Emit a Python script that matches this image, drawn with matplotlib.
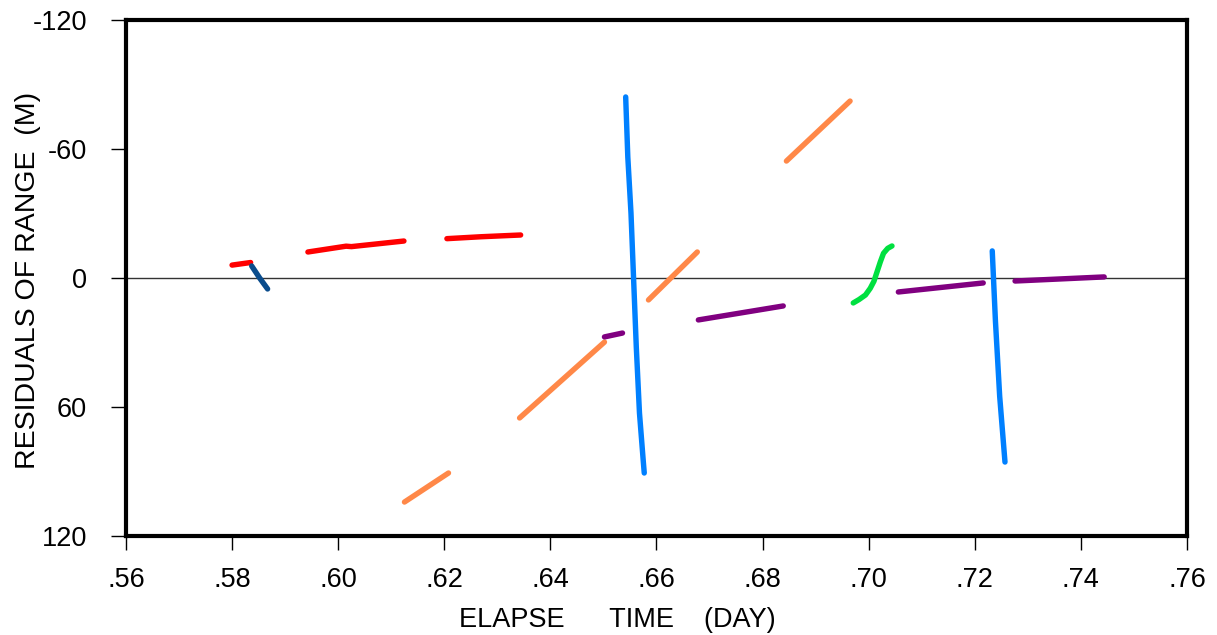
import matplotlib
matplotlib.use("Agg")
import matplotlib.pyplot as plt

plt.rcParams['font.family'] = ['Liberation Sans', 'DejaVu Sans']

# Segments (x in days, y residuals in m)
red1_x = [0.5800, 0.5835]
red1_y = [-6.0, -7.2]
dblue_x = [0.5837, 0.5852, 0.5867]
dblue_y = [-5.6, 0.0, 5.1]
red2_x = [0.5943, 0.6015, 0.6025, 0.6124]
red2_y = [-12.1, -14.8, -14.6, -17.2]
red3_x = [0.6205, 0.6270, 0.6344]
red3_y = [-18.3, -19.2, -20.0]
orange1_x = [0.6125, 0.6208]
orange1_y = [104.2, 90.7]
orange2_x = [0.6342, 0.6502]
orange2_y = [65.1, 29.8]
purple1_x = [0.6502, 0.6536]
purple1_y = [27.4, 25.6]
lblue1_x = [0.6542, 0.6546, 0.6552, 0.6557, 0.6562, 0.6568, 0.6575, 0.6577]
lblue1_y = [-84.2, -56.3, -30.2, 0.9, 32.1, 62.8, 84.7, 90.7]
orange3_x = [0.6585, 0.6677]
orange3_y = [10.2, -12.1]
purple2_x = [0.6679, 0.6839]
purple2_y = [19.5, 13.0]
orange4_x = [0.6845, 0.6965]
orange4_y = [-54.4, -82.3]
green_x = [0.6971, 0.6982, 0.6994, 0.7003, 0.7010, 0.7016, 0.7022, 0.7028, 0.7036, 0.7044]
green_y = [11.6, 10.0, 7.9, 4.8, 1.5, -3.0, -7.5, -11.5, -13.8, -14.9]
purple3_x = [0.7056, 0.7216]
purple3_y = [6.5, 2.3]
lblue2_x = [0.7233, 0.7239, 0.7247, 0.7257]
lblue2_y = [-12.6, 20.0, 55.0, 85.6]
purple4_x = [0.7276, 0.7444]
purple4_y = [1.4, -0.5]

segments = [
    (red1_x, red1_y, '#FF0000'),
    (dblue_x, dblue_y, '#0A4C8C'),
    (red2_x, red2_y, '#FF0000'),
    (red3_x, red3_y, '#FF0000'),
    (orange1_x, orange1_y, '#FF8848'),
    (orange2_x, orange2_y, '#FF8848'),
    (purple1_x, purple1_y, '#800080'),
    (orange3_x, orange3_y, '#FF8848'),
    (purple2_x, purple2_y, '#800080'),
    (orange4_x, orange4_y, '#FF8848'),
    (green_x, green_y, '#00E040'),
    (purple3_x, purple3_y, '#800080'),
    (purple4_x, purple4_y, '#800080'),
    (lblue1_x, lblue1_y, '#0080FF'),
    (lblue2_x, lblue2_y, '#0080FF'),
]

x_ticks = [0.56, 0.58, 0.60, 0.62, 0.64, 0.66, 0.68, 0.70, 0.72, 0.74, 0.76]
x_tick_labels = ['.56', '.58', '.60', '.62', '.64', '.66', '.68', '.70', '.72', '.74', '.76']
y_ticks = [-120, -60, 0, 60, 120]
y_tick_labels = ['-120', '-60', '0', '60', '120']

FS = 19.5
fig = plt.figure(figsize=(12.17, 6.35), dpi=100)
ax = fig.add_axes([0.1035, 0.1559, 0.8718, 0.8126])

ax.axhline(0, color='#333333', lw=1.0, zorder=1)
for xs, ys, c in segments:
    ax.plot(xs, ys, color=c, lw=3.9, solid_capstyle='round', solid_joinstyle='round', zorder=2)

ax.set_xlim(0.56, 0.76)
ax.set_ylim(120, -120)
ax.set_xticks(x_ticks)
ax.set_xticklabels(x_tick_labels, fontsize=FS)
ax.set_yticks(y_ticks)
ax.set_yticklabels(y_tick_labels, fontsize=FS)
ax.tick_params(axis='x', direction='out', length=10, width=1, pad=12)
ax.tick_params(axis='y', direction='out', length=11, width=1, pad=17)
for s in ax.spines.values():
    s.set_linewidth(3)
ax.set_xlabel('ELAPSE      TIME    (DAY)', fontsize=FS)
ax.xaxis.set_label_coords(0.463, -0.138)
ax.set_ylabel('RESIDUALS OF RANGE  (M)', fontsize=20.5)
ax.yaxis.set_label_coords(-0.080, 0.495)

fig.savefig('out.png', dpi=100)
